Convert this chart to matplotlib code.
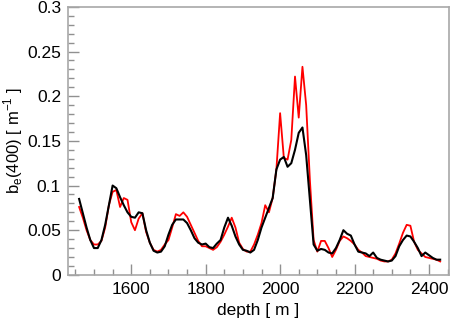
import matplotlib
matplotlib.use('Agg')
import matplotlib.pyplot as plt
from matplotlib.ticker import MultipleLocator, FuncFormatter

plt.rcParams['font.family'] = ['Liberation Sans', 'DejaVu Sans']

# depth samples [m]
depth = list(range(1460, 2440, 10))

# backscattering at 400 nm, raw profile (red)
be_raw = [0.076, 0.064, 0.050, 0.039, 0.034, 0.034, 0.038, 0.053, 0.078, 0.093,
          0.095, 0.076, 0.086, 0.084, 0.059, 0.050, 0.063, 0.069, 0.048, 0.036,
          0.028, 0.026, 0.028, 0.034, 0.039, 0.053, 0.068, 0.066, 0.070, 0.065,
          0.056, 0.047, 0.038, 0.032, 0.032, 0.030, 0.028, 0.031, 0.037, 0.045,
          0.054, 0.064, 0.053, 0.036, 0.029, 0.026, 0.026, 0.034, 0.045, 0.058,
          0.078, 0.070, 0.086, 0.118, 0.181, 0.131, 0.129, 0.151, 0.222, 0.176,
          0.233, 0.190, 0.106, 0.039, 0.026, 0.038, 0.038, 0.030, 0.020, 0.028,
          0.038, 0.043, 0.041, 0.038, 0.034, 0.028, 0.025, 0.021, 0.020, 0.019,
          0.018, 0.016, 0.015, 0.015, 0.017, 0.024, 0.035, 0.047, 0.056, 0.055,
          0.037, 0.028, 0.024, 0.020, 0.019, 0.018, 0.017, 0.015]

# smoothed profile (black)
be_smooth = [0.085, 0.069, 0.053, 0.039, 0.030, 0.030, 0.039, 0.056, 0.078, 0.100,
             0.097, 0.087, 0.078, 0.070, 0.065, 0.064, 0.070, 0.069, 0.050, 0.036,
             0.027, 0.025, 0.026, 0.032, 0.045, 0.056, 0.062, 0.062, 0.062, 0.058,
             0.050, 0.041, 0.036, 0.034, 0.035, 0.031, 0.030, 0.035, 0.039, 0.053,
             0.064, 0.055, 0.043, 0.034, 0.028, 0.027, 0.025, 0.028, 0.039, 0.053,
             0.064, 0.075, 0.086, 0.118, 0.129, 0.132, 0.121, 0.125, 0.140, 0.159,
             0.165, 0.134, 0.084, 0.034, 0.027, 0.029, 0.028, 0.025, 0.024, 0.030,
             0.039, 0.050, 0.046, 0.044, 0.034, 0.026, 0.025, 0.024, 0.021, 0.025,
             0.019, 0.017, 0.016, 0.015, 0.016, 0.021, 0.032, 0.039, 0.044, 0.043,
             0.037, 0.030, 0.021, 0.025, 0.022, 0.019, 0.017, 0.017]

fig = plt.figure(figsize=(4.5, 3.28), dpi=100)
ax = fig.add_axes([0.151, 0.162, 0.847, 0.817])

ax.plot(depth, be_raw, color='red', lw=1.3)
ax.plot(depth, be_smooth, color='black', lw=1.5)

ax.set_xlim(1430, 2454)
ax.set_ylim(0, 0.3)
ax.xaxis.set_major_locator(MultipleLocator(200))
ax.xaxis.set_minor_locator(MultipleLocator(50))
ax.yaxis.set_major_locator(MultipleLocator(0.05))
ax.yaxis.set_minor_locator(MultipleLocator(0.01))
ax.yaxis.set_major_formatter(FuncFormatter(lambda v, p: ('%.2f' % v).rstrip('0').rstrip('.') if v else '0'))

for s in ax.spines.values():
    s.set_color('#a8a8a8')
    s.set_linewidth(1.2)
ax.tick_params(which='both', direction='in', color='#909090', labelsize=12.5,
               top=False, right=False)
ax.tick_params(which='major', length=8, width=1, pad=5)
ax.tick_params(which='minor', length=4, width=1)

ax.set_xlabel('depth [ m ]', fontsize=12.5)
ax.set_ylabel(r'b$_\mathregular{e}$(400) [ m$^\mathregular{-1}$ ]', fontsize=12)
ax.xaxis.set_label_coords(0.5, -0.105)
ax.yaxis.set_label_coords(-0.112, 0.5)

fig.savefig('out.png', dpi=100)
